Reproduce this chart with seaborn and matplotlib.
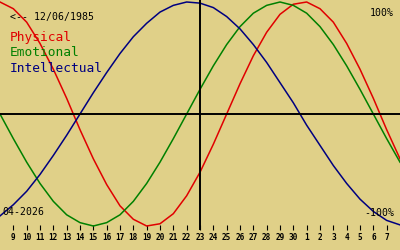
import matplotlib
matplotlib.use("Agg")
import matplotlib.pyplot as plt
import seaborn as sns
import pandas as pd

# Day labels along the x axis (April 9 .. May 7, 2026)
day_labels = [9, 10, 11, 12, 13, 14, 15, 16, 17, 18, 19, 20, 21, 22, 23, 24, 25,
              26, 27, 28, 29, 30, 1, 2, 3, 4, 5, 6, 7]

# Values read at each day index 0..30 (index 0 = April 8, index 30 = May 8)
physical = [1.00, 0.94, 0.82, 0.63, 0.40, 0.14, -0.14, -0.40, -0.63, -0.82, -0.94,
            -1.00, -0.98, -0.89, -0.73, -0.52, -0.27, 0.00, 0.27, 0.52, 0.73, 0.89,
            0.98, 1.00, 0.94, 0.82, 0.63, 0.40, 0.14, -0.14, -0.40]
emotional = [0.00, -0.22, -0.43, -0.62, -0.78, -0.90, -0.97, -1.00, -0.97, -0.90,
             -0.78, -0.62, -0.43, -0.22, 0.00, 0.22, 0.43, 0.62, 0.78, 0.90, 0.97,
             1.00, 0.97, 0.90, 0.78, 0.62, 0.43, 0.22, 0.00, -0.22, -0.43]
intellectual = [-0.91, -0.81, -0.69, -0.54, -0.37, -0.19, 0.00, 0.19, 0.37, 0.54,
                0.69, 0.81, 0.91, 0.97, 1.00, 0.99, 0.95, 0.87, 0.76, 0.62, 0.46,
                0.28, 0.10, -0.10, -0.28, -0.46, -0.62, -0.76, -0.87, -0.95, -0.99]

series_names = ["Physical", "Emotional", "Intellectual"]
colors = ["#e00000", "#008000", "#000080"]
today_index = 15
birth_text = "<-- 12/06/1985"
month_text = "04-2026"

bg = "#e0d088"

rows = []
for name, vals in zip(series_names, [physical, emotional, intellectual]):
    for i, v in enumerate(vals):
        rows.append({"day": i, "value": v, "series": name})
df = pd.DataFrame(rows)

fig = plt.figure(figsize=(4, 2.5), dpi=100, facecolor=bg)
ax = fig.add_axes([0, 20 / 250, 1, 230 / 250])
ax.set_facecolor(bg)

sns.lineplot(data=df, x="day", y="value", hue="series", palette=colors,
             hue_order=series_names, linewidth=1.1, legend=False, ax=ax,
             sort=False, estimator=None)

ax.set_xlim(0, len(physical) - 1)
ax.set_ylim(-116 / 112, 114 / 112)

ax.axhline(0, color="black", lw=1.4)
ax.axvline(today_index, color="black", lw=1.4)

for s in ax.spines.values():
    s.set_visible(False)

mono = "DejaVu Sans Mono"

ax.set_xticks(range(1, len(day_labels) + 1))
ax.set_xticklabels([str(d) for d in day_labels], fontsize=5.6,
                   fontweight="bold", family=mono)
ax.tick_params(axis="x", direction="in", length=3.9, width=0.8, color="black",
               pad=1.8, bottom=True)
ax.set_yticks([])
ax.set_xlabel("")
ax.set_ylabel("")

fig.text(10 / 400, 1 - 17 / 250, birth_text, fontsize=7.1, family=mono,
         color="black", va="center", ha="left")
for k, (name, c) in enumerate(zip(series_names, colors)):
    fig.text(10 / 400, 1 - (38 + 15 * k) / 250, name, fontsize=9.3, family=mono,
             color=c, va="center", ha="left")
fig.text(394 / 400, 1 - 13 / 250, "100%", fontsize=7.1, family=mono,
         color="black", va="center", ha="right")
fig.text(394 / 400, 1 - 213 / 250, "-100%", fontsize=7.1, family=mono,
         color="black", va="center", ha="right")
fig.text(2 / 400, 1 - 212 / 250, month_text, fontsize=7.1, family=mono,
         color="black", va="center", ha="left")

fig.savefig("out.png", dpi=100, facecolor=bg)
